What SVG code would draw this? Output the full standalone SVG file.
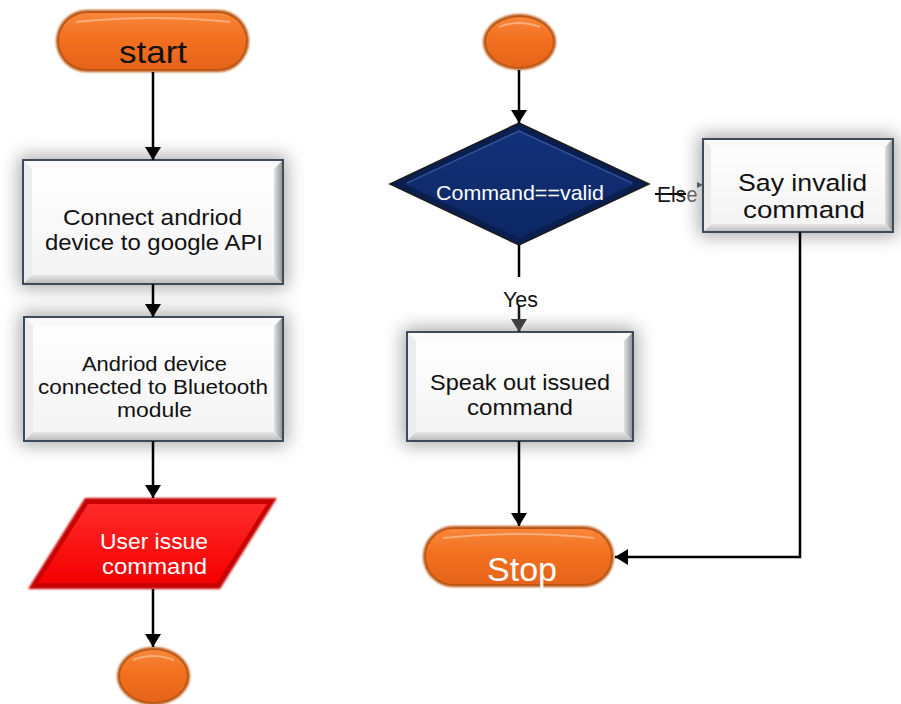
<svg xmlns="http://www.w3.org/2000/svg" width="901" height="704" viewBox="0 0 901 704">
  <defs>
    <style>
      .lbl { font-family: "Liberation Sans", Arial, sans-serif; text-anchor: middle; }
      .dark { fill: #111111; }
      .light { fill: #ffffff; }
      .edge { fill: none; stroke: #3e4b5b; stroke-width: 2; }
      .wire { fill: none; stroke: #000000; stroke-width: 2.5; }
      .halo { fill: #6e6e6e; opacity: 0.6; filter: url(#soft); }
      .bT { fill: #f9f9f9; }
      .bL { fill: #ececec; }
      .bR { fill: url(#bevR); }
      .bB { fill: url(#bevB); }
      .face { fill: url(#faceG); }
    </style>
    <filter id="soft" x="-30%" y="-30%" width="160%" height="160%">
      <feGaussianBlur stdDeviation="9"/>
    </filter>
    <filter id="fuzz" x="-10%" y="-10%" width="120%" height="120%">
      <feGaussianBlur stdDeviation="1"/>
    </filter>
    <linearGradient id="faceG" x1="0" y1="0" x2="0" y2="1">
      <stop offset="0" stop-color="#ffffff"/>
      <stop offset="1" stop-color="#f3f3f3"/>
    </linearGradient>
    <linearGradient id="bevR" x1="0" y1="0" x2="1" y2="0">
      <stop offset="0" stop-color="#e2e2e2"/>
      <stop offset="1" stop-color="#8e8e8e"/>
    </linearGradient>
    <linearGradient id="bevB" x1="0" y1="0" x2="0" y2="1">
      <stop offset="0" stop-color="#e6e6e6"/>
      <stop offset="1" stop-color="#b9b9b9"/>
    </linearGradient>
    <linearGradient id="orangeG" x1="0" y1="0" x2="0" y2="1">
      <stop offset="0" stop-color="#f8863a"/>
      <stop offset="0.45" stop-color="#f2701f"/>
      <stop offset="1" stop-color="#e6641a"/>
    </linearGradient>
    <linearGradient id="redG" x1="0" y1="0" x2="0" y2="1">
      <stop offset="0" stop-color="#ff2a2a"/>
      <stop offset="1" stop-color="#f50000"/>
    </linearGradient>
    <linearGradient id="navyG" x1="0" y1="0" x2="0" y2="1">
      <stop offset="0" stop-color="#13317a"/>
      <stop offset="1" stop-color="#0c2763"/>
    </linearGradient>
    <marker id="ah" viewBox="0 0 13 16" markerWidth="13" markerHeight="16" refX="13" refY="8" orient="auto" markerUnits="userSpaceOnUse">
      <path d="M0,0 L13,8 L0,16 Z" fill="#000000"/>
    </marker>
    <marker id="ahGrey" viewBox="0 0 13 16" markerWidth="13" markerHeight="16" refX="13" refY="8" orient="auto" markerUnits="userSpaceOnUse">
      <path d="M0,0 L13,8 L0,16 Z" fill="#404040"/>
    </marker>
  </defs>

  <rect width="901" height="704" fill="#ffffff"/>

  <!-- shadows behind the process boxes -->
  <g id="shadows">
    <rect class="halo" x="19" y="156" width="268" height="132"/>
    <rect class="halo" x="20" y="313" width="267" height="132"/>
    <rect class="halo" x="403" y="328" width="234" height="117"/>
    <rect class="halo" x="699" y="135" width="198" height="101"/>
  </g>

  <!-- start terminator -->
  <g id="start">
    <rect x="56" y="10" width="193" height="62" rx="31" fill="#b9520e" filter="url(#fuzz)"/>
    <rect x="59" y="13" width="187" height="56" rx="28" fill="url(#orangeG)"/>
    <path d="M76,22 Q153,14 230,22" fill="none" stroke="#ffffff" stroke-opacity="0.35" stroke-width="2"/>
    <text class="lbl dark" x="153" y="63" font-size="32" textLength="68" lengthAdjust="spacingAndGlyphs">start</text>
  </g>

  <!-- process: connect to API -->
  <g id="connectApi">
    <rect class="face" x="23" y="160" width="260" height="124"/>
    <polygon class="bT" points="23,160 283,160 274,169 32,169"/>
    <polygon class="bL" points="23,160 32,169 32,275 23,284"/>
    <polygon class="bR" points="283,160 283,284 274,275 274,169"/>
    <polygon class="bB" points="23,284 32,275 274,275 283,284"/>
    <rect class="edge" x="23" y="160" width="260" height="124"/>
    <text class="lbl dark" x="152.5" y="225" font-size="22" textLength="179" lengthAdjust="spacingAndGlyphs">Connect andriod</text>
    <text class="lbl dark" x="154" y="250" font-size="22" textLength="218" lengthAdjust="spacingAndGlyphs">device to google API</text>
  </g>

  <!-- process: bluetooth link -->
  <g id="bluetooth">
    <rect class="face" x="24" y="317" width="259" height="124"/>
    <polygon class="bT" points="24,317 283,317 274,326 33,326"/>
    <polygon class="bL" points="24,317 33,326 33,432 24,441"/>
    <polygon class="bR" points="283,317 283,441 274,432 274,326"/>
    <polygon class="bB" points="24,441 33,432 274,432 283,441"/>
    <rect class="edge" x="24" y="317" width="259" height="124"/>
    <text class="lbl dark" x="154.5" y="371" font-size="20.5" textLength="145" lengthAdjust="spacingAndGlyphs">Andriod device</text>
    <text class="lbl dark" x="153" y="394" font-size="20.5" textLength="230" lengthAdjust="spacingAndGlyphs">connected to Bluetooth</text>
    <text class="lbl dark" x="154.5" y="417" font-size="20.5" textLength="75" lengthAdjust="spacingAndGlyphs">module</text>
  </g>

  <!-- input: user command -->
  <g id="userInput">
    <polygon points="85,498 277,498 220,589 28,589" fill="#c80000" filter="url(#fuzz)"/>
    <polygon points="88,504 267,504 217,583 38,583" fill="url(#redG)"/>
    <text class="lbl light" x="154" y="549" font-size="22" textLength="108" lengthAdjust="spacingAndGlyphs">User issue</text>
    <text class="lbl light" x="154.5" y="574" font-size="22" textLength="105" lengthAdjust="spacingAndGlyphs">command</text>
  </g>

  <!-- off-page connector (left column) -->
  <g id="linkOut">
    <ellipse cx="153.5" cy="676" rx="36.5" ry="29" fill="#b9520e" filter="url(#fuzz)"/>
    <ellipse cx="153.5" cy="676" rx="33.5" ry="26" fill="url(#orangeG)"/>
    <path d="M133,660 Q153,652 174,660" fill="none" stroke="#ffffff" stroke-opacity="0.35" stroke-width="2"/>
  </g>

  <!-- on-page connector (right column) -->
  <g id="linkIn">
    <ellipse cx="519.5" cy="42" rx="36.5" ry="28" fill="#b9520e" filter="url(#fuzz)"/>
    <ellipse cx="519.5" cy="42" rx="33.5" ry="25" fill="url(#orangeG)"/>
    <path d="M499,27 Q519,19 540,27" fill="none" stroke="#ffffff" stroke-opacity="0.35" stroke-width="2"/>
  </g>

  <!-- decision -->
  <g id="decision">
    <polygon points="519,123 649,184 519,245 390,184" fill="#0a1f4f" stroke="#1a1a1a" stroke-width="1.5"/>
    <polygon points="519,130 634,184 519,238 405,184" fill="url(#navyG)"/>
    <path d="M407,183 L519,131 L632,183" fill="none" stroke="#4a68b0" stroke-opacity="0.6" stroke-width="1.5"/>
    <text class="lbl light" x="520" y="200" font-size="21" textLength="168" lengthAdjust="spacingAndGlyphs">Command==valid</text>
  </g>

  <!-- process: invalid message -->
  <g id="sayInvalid">
    <rect class="face" x="703" y="139" width="190" height="93"/>
    <polygon class="bT" points="703,139 893,139 885,147 711,147"/>
    <polygon class="bL" points="703,139 711,147 711,224 703,232"/>
    <polygon class="bR" points="893,139 893,232 885,224 885,147"/>
    <polygon class="bB" points="703,232 711,224 885,224 893,232"/>
    <rect class="edge" x="703" y="139" width="190" height="93"/>
    <text class="lbl dark" x="802.5" y="191" font-size="24.5" textLength="129" lengthAdjust="spacingAndGlyphs">Say invalid</text>
    <text class="lbl dark" x="804" y="218" font-size="24.5" textLength="122" lengthAdjust="spacingAndGlyphs">command</text>
  </g>

  <!-- process: speak command -->
  <g id="speak">
    <rect class="face" x="407" y="332" width="226" height="109"/>
    <polygon class="bT" points="407,332 633,332 624,341 416,341"/>
    <polygon class="bL" points="407,332 416,341 416,432 407,441"/>
    <polygon class="bR" points="633,332 633,441 624,432 624,341"/>
    <polygon class="bB" points="407,441 416,432 624,432 633,441"/>
    <rect class="edge" x="407" y="332" width="226" height="109"/>
    <text class="lbl dark" x="520" y="390" font-size="22.5" textLength="180" lengthAdjust="spacingAndGlyphs">Speak out issued</text>
    <text class="lbl dark" x="520" y="415" font-size="22.5" textLength="106" lengthAdjust="spacingAndGlyphs">command</text>
  </g>

  <!-- stop terminator -->
  <g id="stop">
    <rect x="423" y="526" width="191" height="61" rx="30.5" fill="#b9520e" filter="url(#fuzz)"/>
    <rect x="426" y="529" width="185" height="55" rx="27.5" fill="url(#orangeG)"/>
    <path d="M443,538 Q519,530 594,538" fill="none" stroke="#ffffff" stroke-opacity="0.35" stroke-width="2"/>
    <text class="lbl light" x="522" y="581" font-size="34" textLength="70" lengthAdjust="spacingAndGlyphs">Stop</text>
  </g>

  <!-- connectors -->
  <g id="connectors">
    <line class="wire" x1="153" y1="72" x2="153" y2="160" marker-end="url(#ah)"/>
    <line class="wire" x1="153" y1="284" x2="153" y2="317" marker-end="url(#ah)"/>
    <line class="wire" x1="153" y1="441" x2="153" y2="498" marker-end="url(#ah)"/>
    <line class="wire" x1="153" y1="589" x2="153" y2="647" marker-end="url(#ah)"/>
    <line class="wire" x1="519" y1="70" x2="519" y2="123" marker-end="url(#ah)"/>
    <line class="wire" x1="519" y1="245" x2="519" y2="277"/>
    <line x1="519" y1="306" x2="519" y2="332" stroke="#1a1a1a" stroke-width="2.5" marker-end="url(#ahGrey)"/>
    <line class="wire" x1="519" y1="441" x2="519" y2="526" marker-end="url(#ah)"/>
    <polyline class="wire" points="800,232 800,557 615,557" marker-end="url(#ah)"/>
    <line x1="655" y1="194" x2="686" y2="194" stroke="#000000" stroke-width="2"/>
    <path d="M697,182 L703,185 L697,188 Z" fill="#5a5a5a"/>
    <text class="lbl" x="503" y="307" font-size="22" textLength="35" lengthAdjust="spacingAndGlyphs" style="text-anchor:start" fill="#111111">Yes</text>
    <text class="lbl" x="657" y="202" font-size="22" textLength="29" lengthAdjust="spacingAndGlyphs" style="text-anchor:start" fill="#1a1a1a">Els</text>
    <text class="lbl" x="686.5" y="202" font-size="22" textLength="11" lengthAdjust="spacingAndGlyphs" style="text-anchor:start" fill="#666666">e</text>
  </g>
</svg>
